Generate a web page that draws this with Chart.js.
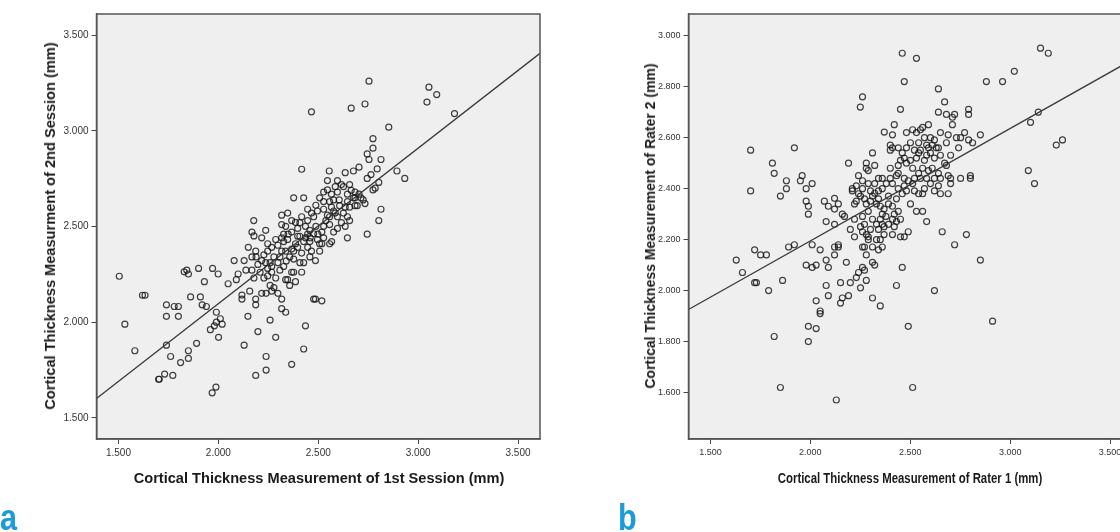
<!DOCTYPE html>
<html>
<head>
<meta charset="utf-8">
<script src="https://cdn.jsdelivr.net/npm/chart.js@4.4.1/dist/chart.umd.min.js"></script>
<style>
  body { margin: 0; width: 1120px; height: 532px; overflow: hidden; background: #fff; position: relative; font-family: Arial, "Liberation Sans", sans-serif; }
  canvas { position: absolute; top: 0; }
  .ttl { position: absolute; white-space: nowrap; font-weight: bold; color: #1a1a1a; transform: translate(-50%, -50%); }
  .rot { transform: translate(-50%, -50%) rotate(-90deg); }
  .narrow { transform: translate(-50%, -50%) scaleX(0.78); }
  .tag { position: absolute; top: 497px; font: bold 36px Arial, sans-serif; color: #1b9bd7; transform: scaleX(0.85); transform-origin: left top; }
</style>
</head>
<body>
<canvas id="chartA" width="560" height="500" style="left:0px"></canvas>
<canvas id="chartB" width="560" height="500" style="left:592px"></canvas>

<div class="ttl rot" style="left:50px; top:226px; font-size:14.6px">Cortical Thickness Measurment of 2nd Session (mm)</div>
<div class="ttl" style="left:319px; top:478px; font-size:14.6px">Cortical Thickness Measurement of 1st Session (mm)</div>
<div class="ttl rot" style="left:650px; top:226px; font-size:14px">Cortical Thickness Measurement of Rater 2 (mm)</div>
<div class="ttl narrow" style="left:910px; top:478px; font-size:14.6px">Cortical Thickness Measurement of Rater 1 (mm)</div>
<div class="tag" style="left:0px">a</div>
<div class="tag" style="left:618px">b</div>

<script>
// a: 1st session vs 2nd session
const sessionX = [
  1.504, 1.532, 1.582, 1.620, 1.633, 1.740, 1.740, 1.740, 1.701, 1.704,
  1.731, 1.772, 1.761, 1.779, 1.800, 1.800, 1.811, 1.850, 1.850, 1.829,
  1.842, 1.850, 1.861, 1.891, 1.901, 1.910, 1.919, 1.930, 1.940, 1.960,
  1.971, 1.980, 1.990, 1.990, 1.999, 2.001, 2.010, 2.019, 1.969, 1.988,
  2.049, 2.079, 2.090, 2.099, 2.118, 2.118, 2.129, 2.148, 2.157, 2.187,
  2.187, 2.198, 2.187, 2.239, 2.239, 2.259, 2.287, 2.317, 2.317, 2.337,
  2.367, 2.427, 2.436, 2.477, 2.486, 2.518, 2.486, 2.417, 2.377, 2.466,
  2.665, 2.734, 2.754, 3.044, 3.054, 3.093, 3.182, 2.853, 2.774, 2.774,
  2.745, 2.754, 2.814, 2.894, 2.933, 2.795, 2.704, 2.676, 2.635, 2.555,
  2.546, 2.745, 2.764, 2.803, 2.774, 2.785, 2.814, 2.803, 2.745, 2.646,
  2.734, 2.714, 2.684,
  2.177, 2.168, 2.237, 2.178, 2.217, 2.150, 2.187, 2.168, 2.129, 2.138,
  2.168, 2.198, 2.209, 2.178, 2.228, 2.247, 2.259, 2.267, 2.278, 2.239,
  2.217, 2.298, 2.267, 2.298, 2.278, 2.317, 2.247, 2.247, 2.287, 2.317,
  2.347, 2.337, 2.357, 2.327, 2.367, 2.377, 2.337, 2.347, 2.386, 2.357,
  2.417, 2.317, 2.347, 2.317, 2.337, 2.386, 2.408, 2.397, 2.417, 2.447,
  2.408, 2.386, 2.377, 2.417, 2.408, 2.447, 2.458, 2.436, 2.466, 2.477,
  2.488, 2.477, 2.496, 2.488, 2.507, 2.507, 2.527, 2.527, 2.538, 2.546,
  2.527, 2.557, 2.577, 2.566, 2.585, 2.596, 2.557, 2.567, 2.577, 2.596,
  2.616, 2.626, 2.635, 2.605, 2.596, 2.626, 2.646, 2.657, 2.665, 2.676,
  2.657, 2.646, 2.635, 2.657, 2.684, 2.695, 2.616, 2.596, 2.546, 2.527,
  2.507, 2.427, 2.436, 2.458, 2.447, 2.367, 2.327, 2.298, 2.267, 2.228,
  2.217, 2.267, 2.308, 2.287, 2.247, 2.189, 2.237, 2.259, 2.308, 2.367,
  2.397, 2.427, 2.460, 2.498, 2.518, 2.557, 2.577, 2.607, 2.646, 2.684,
  2.704, 2.725, 2.557, 2.518, 2.496, 2.458, 2.427, 2.377, 2.340, 2.397,
  2.349, 2.327, 2.367, 2.447, 2.466, 2.527, 2.566, 2.585
];
const sessionY = [
  2.240, 1.990, 1.851, 2.141, 2.141, 2.091, 2.031, 1.880, 1.702, 1.702,
  1.729, 1.722, 1.821, 2.082, 2.082, 2.031, 1.789, 1.851, 1.811, 2.263,
  2.272, 2.252, 2.132, 1.890, 2.281, 2.132, 2.091, 2.212, 2.082, 1.961,
  2.281, 1.981, 2.052, 2.000, 2.252, 1.921, 2.018, 1.990, 1.631, 1.661,
  2.201, 2.322, 2.222, 2.252, 2.142, 2.121, 1.880, 2.031, 2.162, 2.121,
  2.091, 1.951, 1.722, 1.821, 1.750, 2.011, 1.921, 2.121, 2.071, 2.052,
  1.780, 1.860, 1.981, 2.121, 2.121, 2.112, 2.322, 2.799, 2.650, 3.099,
  3.118, 3.140, 3.259, 3.150, 3.228, 3.189, 3.090, 3.019, 2.959, 2.909,
  2.879, 2.850, 2.850, 2.790, 2.751, 2.801, 2.810, 2.790, 2.781, 2.790,
  2.740, 2.751, 2.771, 2.730, 2.691, 2.700, 2.590, 2.531, 2.460, 2.441,
  2.620, 2.650, 2.609,
  2.531, 2.471, 2.480, 2.451, 2.441, 2.391, 2.371, 2.341, 2.322, 2.272,
  2.272, 2.302, 2.261, 2.231, 2.231, 2.242, 2.192, 2.162, 2.181, 2.151,
  2.151, 2.151, 2.291, 2.311, 2.341, 2.371, 2.371, 2.410, 2.432, 2.441,
  2.432, 2.371, 2.341, 2.291, 2.261, 2.261, 2.222, 2.222, 2.212, 2.192,
  2.261, 2.559, 2.570, 2.510, 2.501, 2.522, 2.520, 2.490, 2.551, 2.590,
  2.449, 2.410, 2.371, 2.361, 2.311, 2.391, 2.421, 2.441, 2.371, 2.462,
  2.501, 2.551, 2.581, 2.611, 2.371, 2.410, 2.441, 2.501, 2.531, 2.559,
  2.590, 2.630, 2.639, 2.601, 2.570, 2.551, 2.510, 2.421, 2.471, 2.490,
  2.520, 2.570, 2.601, 2.639, 2.680, 2.708, 2.669, 2.719, 2.689, 2.650,
  2.601, 2.551, 2.501, 2.531, 2.650, 2.609, 2.719, 2.740, 2.691, 2.680,
  2.650, 2.650, 2.501, 2.480, 2.460, 2.471, 2.421, 2.402, 2.391, 2.352,
  2.322, 2.261, 2.272, 2.231, 2.281, 2.341, 2.311, 2.311, 2.341, 2.382,
  2.391, 2.421, 2.441, 2.460, 2.471, 2.551, 2.581, 2.609, 2.630, 2.680,
  2.669, 2.639, 2.410, 2.410, 2.432, 2.341, 2.311, 2.330, 2.320, 2.449,
  2.460, 2.460, 2.531, 2.531, 2.570, 2.630, 2.669, 2.708
];

// b: rater 1 vs rater 2
const raterX = [
  1.629, 1.660, 1.701, 1.701, 1.721, 1.721, 1.730, 1.751, 1.780, 1.791,
  1.810, 1.819, 1.819, 1.850, 1.850, 1.861, 1.880, 1.880, 1.891, 1.920,
  1.920, 1.950, 1.959, 1.979, 1.979, 1.990, 1.990, 2.009, 2.009, 1.979,
  2.009, 2.029, 1.990, 1.990, 2.029, 2.029, 2.049, 2.049, 2.049, 2.079,
  2.090, 2.079, 2.090, 2.079, 2.070, 2.090, 2.121, 2.121, 2.140, 2.121,
  2.121, 2.140, 2.121, 2.140, 2.151, 2.160, 2.151, 2.180, 2.191, 2.200,
  2.130, 2.160, 2.171, 2.191, 2.210, 2.210, 2.221, 2.230, 2.241, 2.251,
  2.261, 2.250, 2.221, 2.221, 2.200, 2.230, 2.241, 2.251, 2.261, 2.271,
  2.280, 2.280, 2.261, 2.271, 2.251, 2.261, 2.271, 2.280, 2.290, 2.301,
  2.311, 2.311, 2.322, 2.311, 2.350, 2.311, 2.322, 2.280, 2.280, 2.290,
  2.261, 2.271, 2.280, 2.301, 2.311, 2.322, 2.331, 2.341, 2.341, 2.360,
  2.350, 2.360, 2.369, 2.378, 2.331, 2.341, 2.360, 2.369, 2.369, 2.350,
  2.360, 2.341, 2.370, 2.400, 2.400, 2.411, 2.420, 2.411, 2.400, 2.391,
  2.411, 2.431, 2.440, 2.451, 2.460, 2.470, 2.531, 2.481, 2.512, 2.531,
  2.551, 2.562, 2.411, 2.420, 2.440, 2.451, 2.420, 2.431, 2.411, 2.451,
  2.470, 2.490, 2.431, 2.460, 2.490, 2.512, 2.501, 2.531, 2.562, 2.582,
  2.460, 2.470, 2.490, 2.440, 2.451, 2.470, 2.481, 2.501, 2.512, 2.531,
  2.542, 2.551, 2.521, 2.542, 2.562, 2.571, 2.582, 2.591, 2.601, 2.591,
  2.582, 2.610, 2.621, 2.630, 2.641, 2.641, 2.672, 2.681, 2.711, 2.711,
  2.722, 2.651, 2.690, 2.681, 2.731, 2.742, 2.752, 2.772, 2.792, 2.792,
  2.792, 2.812, 2.851, 2.702, 2.672, 2.681, 2.641, 2.621, 2.601, 2.651,
  2.690, 2.702, 2.702, 2.752, 2.801, 2.801, 2.641, 2.621, 2.651, 2.690,
  2.571, 2.562, 2.542, 2.660, 2.722, 2.781, 2.851, 2.621, 2.912, 2.881,
  2.962, 3.021, 3.152, 3.191, 3.091, 3.122, 3.102, 3.141, 3.231, 3.262,
  2.460, 2.440, 2.481, 2.501, 2.521, 2.542, 2.571, 2.601, 2.621, 2.591,
  2.551, 2.512, 2.470, 2.440, 2.400, 2.380, 2.360, 2.341, 2.301, 2.322,
  2.290, 2.261, 2.241, 2.230, 2.290, 2.261, 2.311, 2.350, 2.391, 2.411,
  2.290, 2.331, 2.391, 2.431, 2.481, 2.521, 2.582, 2.610, 2.651, 2.641
];
const raterY = [
  2.121, 2.072, 2.552, 2.392, 2.161, 2.032, 2.032, 2.141, 2.141, 2.001,
  2.501, 2.461, 1.821, 2.372, 1.621, 2.041, 2.432, 2.401, 2.172, 2.181,
  2.561, 2.432, 2.452, 2.401, 2.352, 2.332, 2.301, 2.421, 2.181, 2.101,
  2.092, 2.101, 1.861, 1.801, 1.852, 1.961, 1.921, 1.911, 2.161, 2.021,
  1.981, 2.121, 2.092, 2.272, 2.352, 2.332, 2.363, 2.321, 2.341, 2.261,
  2.172, 2.172, 2.141, 2.181, 1.952, 1.972, 2.032, 2.112, 1.981, 2.032,
  1.572, 2.301, 2.292, 2.501, 2.401, 2.392, 2.341, 2.412, 2.452, 2.372,
  2.761, 2.721, 2.281, 2.212, 2.241, 2.052, 2.072, 2.012, 2.092, 2.081,
  2.041, 2.141, 2.172, 2.172, 2.252, 2.232, 2.261, 2.221, 2.212, 2.241,
  2.172, 2.112, 2.101, 1.972, 1.941, 2.541, 2.492, 2.501, 2.481, 2.472,
  2.401, 2.361, 2.341, 2.352, 2.372, 2.383, 2.341, 2.361, 2.441, 2.441,
  2.332, 2.301, 2.321, 2.292, 2.261, 2.241, 2.261, 2.252, 2.221, 2.201,
  2.172, 2.161, 2.623, 2.572, 2.552, 2.561, 2.652, 2.612, 2.481, 2.372,
  2.421, 2.452, 2.492, 2.712, 2.932, 2.821, 2.912, 2.621, 2.632, 2.621,
  2.632, 2.641, 2.332, 2.301, 2.312, 2.281, 2.252, 2.272, 2.221, 2.212,
  2.212, 2.232, 2.021, 2.092, 1.861, 1.621, 2.341, 2.312, 2.312, 2.272,
  2.381, 2.412, 2.432, 2.401, 2.512, 2.521, 2.501, 2.512, 2.481, 2.521,
  2.541, 2.552, 2.441, 2.461, 2.481, 2.512, 2.532, 2.561, 2.601, 2.652,
  2.572, 2.572, 2.592, 2.561, 2.792, 2.701, 2.741, 2.692, 2.652, 2.681,
  2.692, 2.621, 2.612, 2.581, 2.601, 2.561, 2.601, 2.621, 2.712, 2.692,
  2.592, 2.581, 2.612, 2.532, 2.501, 2.492, 2.461, 2.441, 2.421, 2.441,
  2.452, 2.441, 2.421, 2.441, 2.452, 2.441, 2.412, 2.392, 2.381, 2.381,
  2.401, 2.381, 2.381, 2.232, 2.181, 2.221, 2.121, 2.001, 1.881, 2.821,
  2.821, 2.861, 2.952, 2.932, 2.472, 2.421, 2.661, 2.701, 2.572, 2.592,
  2.541, 2.561, 2.561, 2.581, 2.552, 2.581, 2.601, 2.541, 2.521, 2.472,
  2.441, 2.421, 2.441, 2.461, 2.441, 2.421, 2.401, 2.392, 2.392, 2.421,
  2.421, 2.432, 2.381, 2.352, 2.312, 2.292, 2.281, 2.281, 2.261, 2.281,
  2.201, 2.201, 2.341, 2.361, 2.392, 2.392, 2.441, 2.481, 2.532, 2.561
];

// fit lines: y = intercept + slope * x
const sessionFit = { intercept: 0.473, slope: 0.812 };
const raterFit = { intercept: 1.314, slope: 0.441 };

const axisMin = 1.39, axisMax = 3.61;
const raterYMin = 1.419, raterYMax = 3.086;

const frame = {
  id: 'frame',
  beforeDraw(chart) {
    const { ctx, chartArea: a } = chart;
    ctx.save();
    ctx.fillStyle = '#efefef';
    ctx.fillRect(a.left, a.top, a.right - a.left, a.bottom - a.top);
    ctx.restore();
  },
  afterDraw(chart) {
    const { ctx, chartArea: a } = chart;
    ctx.save();
    ctx.strokeStyle = '#555';
    ctx.lineWidth = 1.5;
    ctx.strokeRect(a.left, a.top, a.right - a.left, a.bottom - a.top);
    ctx.restore();
  }
};

function makeChart(id, xs, ys, fit, yMin, yMax, yStep, tickFont) {
  const pts = xs.map((x, i) => ({ x: x, y: ys[i] }));
  const line = [axisMin, axisMax].map(x => ({ x: x, y: fit.intercept + fit.slope * x }));
  const tickOpts = {
    color: '#333',
    font: tickFont,
    padding: 3,
    includeBounds: false,
    callback: v => Number(v).toFixed(3)
  };
  const grid = { drawOnChartArea: false, drawTicks: true, tickLength: 5, color: '#444' };
  return new Chart(document.getElementById(id), {
    type: 'scatter',
    data: {
      datasets: [
        {
          type: 'line',
          data: line,
          borderColor: '#3a3a3a',
          borderWidth: 1.3,
          pointRadius: 0,
          fill: false
        },
        {
          data: pts,
          pointRadius: 3,
          pointBorderWidth: 1.2,
          pointBorderColor: 'rgba(20,20,20,0.8)',
          pointBackgroundColor: 'rgba(0,0,0,0)'
        }
      ]
    },
    options: {
      responsive: false,
      animation: false,
      events: [],
      layout: { padding: { top: 14, right: 20, left: 0, bottom: 0 } },
      plugins: { legend: { display: false }, tooltip: { enabled: false } },
      scales: {
        x: {
          type: 'linear', min: axisMin, max: axisMax,
          ticks: Object.assign({ stepSize: 0.5 }, tickOpts),
          grid: grid,
          border: { color: '#555', width: 1.5 },
          afterFit: s => { s.height = 61; }
        },
        y: {
          type: 'linear', min: yMin, max: yMax,
          ticks: Object.assign({ stepSize: yStep }, tickOpts),
          grid: grid,
          border: { color: '#555', width: 1.5 },
          afterFit: s => { s.width = 96.5; }
        }
      }
    },
    plugins: [frame]
  });
}

makeChart('chartA', sessionX, sessionY, sessionFit, axisMin, axisMax, 0.5,
  { size: 10, family: 'Arial, "Liberation Sans", sans-serif' });
makeChart('chartB', raterX, raterY, raterFit, raterYMin, raterYMax, 0.2,
  { size: 9, family: 'Arial, "Liberation Sans", sans-serif' });
</script>
</body>
</html>
